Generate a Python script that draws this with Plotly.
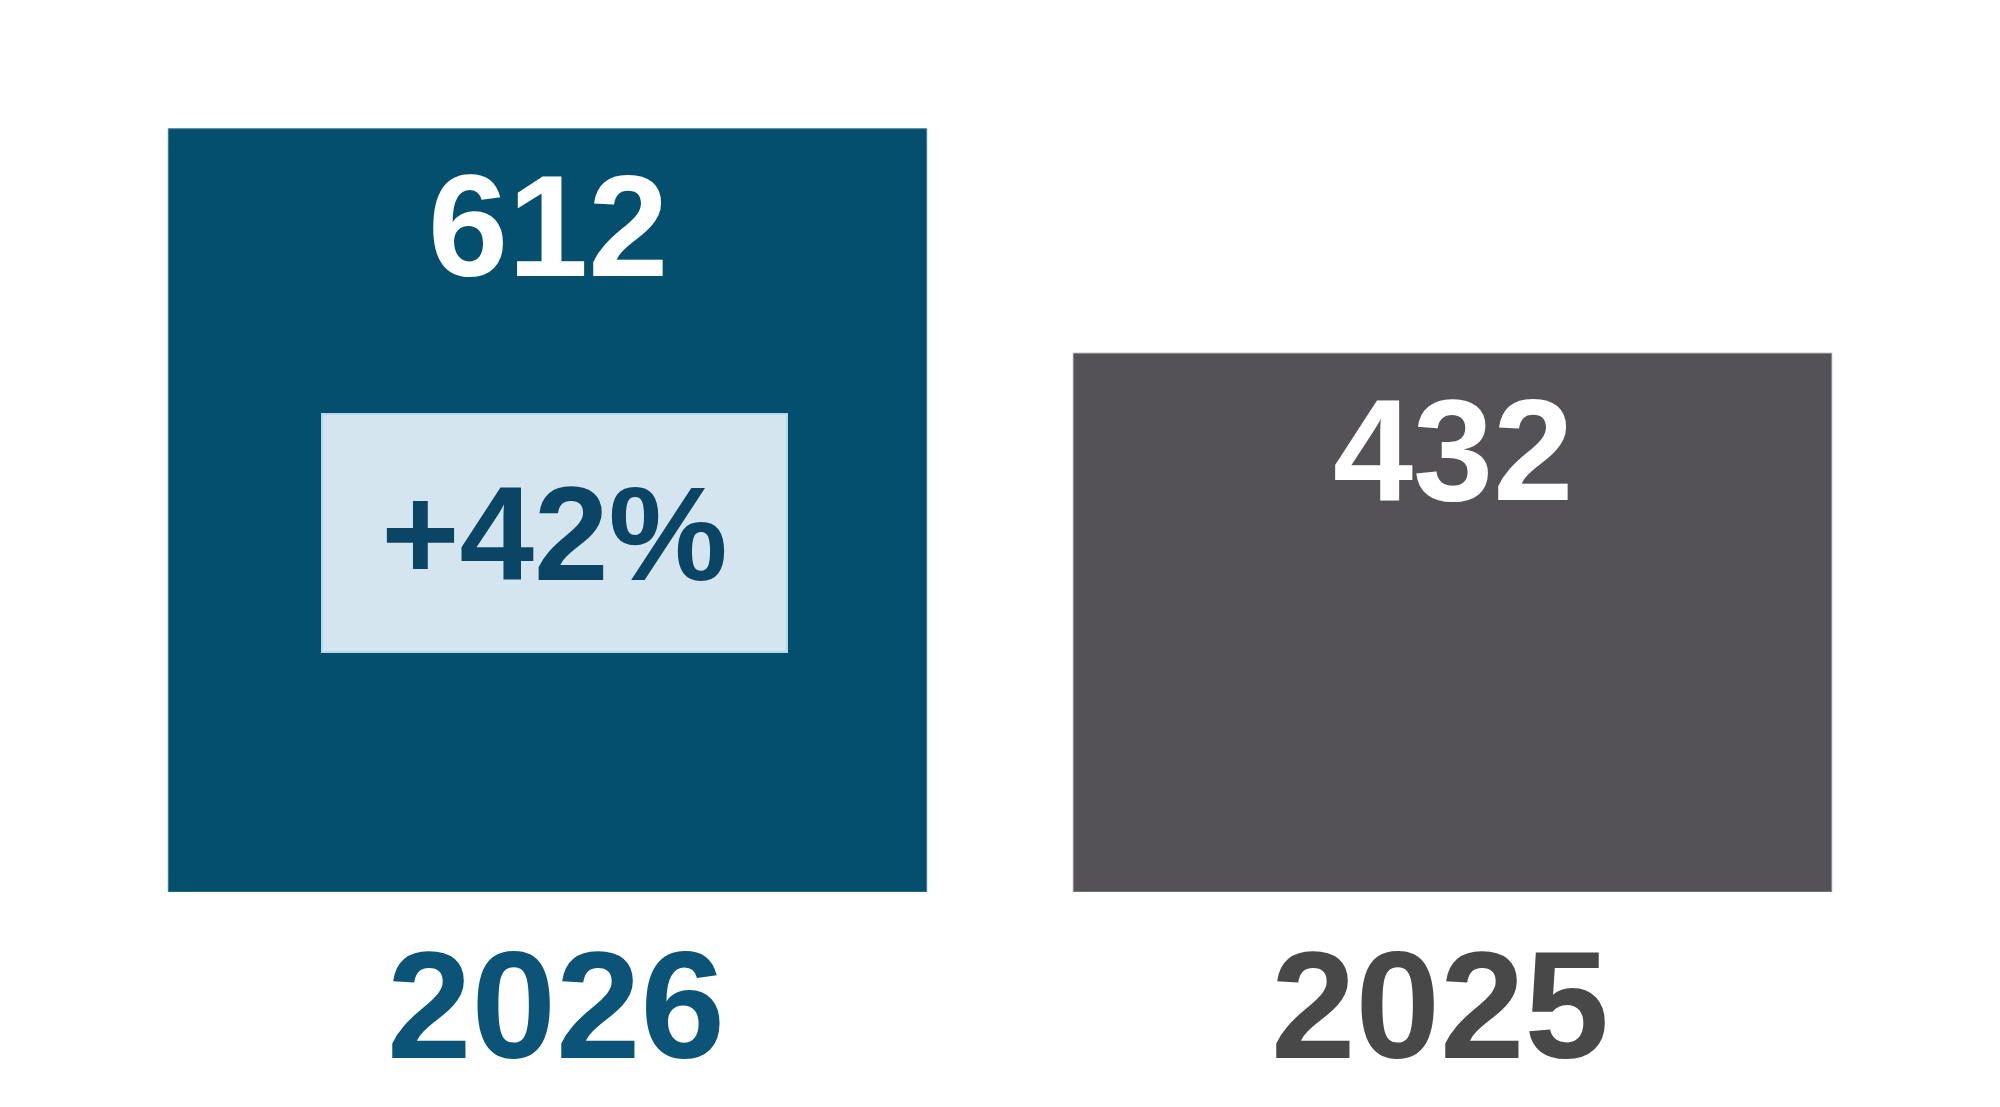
import plotly.graph_objects as go

# dados do grafico
anos = ["2026", "2025"]
valores = [612, 432]
variacao = "+42%"
cores_barras = ["#044F6E", "#545256"]
cores_borda = ["#3E7D99", "#8D8C8E"]
cores_anos = ["#0B5478", "#484848"]
desloc_anos = [8, -13]

fonte = "Liberation Sans, Arial, sans-serif"

fig = go.Figure(data=[go.Bar(x=anos, y=valores,
                             marker=dict(color=cores_barras,
                                         line=dict(color=cores_borda, width=1)),
                             hoverinfo="skip")])

# anotacoes no eixo categorico usam o indice (os anos parecem numeros)
for i, valor in enumerate(valores):
    fig.add_annotation(x=i, y=valor, text="<b>%d</b>" % valor, showarrow=False,
                       yanchor="top", yshift=-15,
                       font=dict(family=fonte, size=144, color="white"))

for i, (ano, cor) in enumerate(zip(anos, cores_anos)):
    fig.add_annotation(x=i, y=0, text="<b>%s</b>" % ano, showarrow=False,
                       yanchor="top", yshift=-26, xshift=desloc_anos[i],
                       font=dict(family=fonte, size=152, color=cor))

# caixa com a variacao
fig.add_annotation(x=0, y=valores[0] * 0.47, text="<b>%s</b>" % variacao,
                   showarrow=False, xshift=7,
                   width=463, height=236, align="center", valign="middle",
                   bgcolor="#D4E5EF", bordercolor="#B5D8EA", borderwidth=2, borderpad=0,
                   font=dict(family=fonte, size=134, color="#0B4566"))

# a pagina tem 8px de margem no body
fig.update_layout(width=1992, height=1099,
                  margin=dict(l=87, r=95, t=11, b=215),
                  bargap=0.162, showlegend=False,
                  plot_bgcolor="white", paper_bgcolor="white")

fig.update_xaxes(visible=False, type="category", range=[-0.5, 1.5])
fig.update_yaxes(visible=False, range=[0, 700])

fig.write_html("out.html")
